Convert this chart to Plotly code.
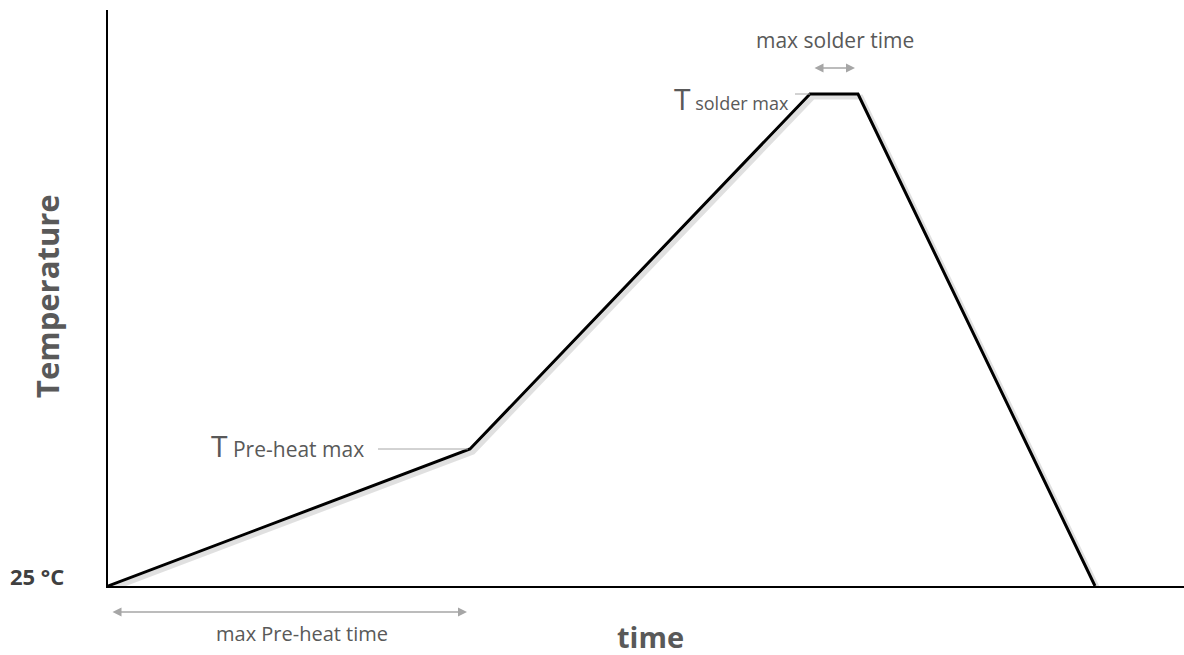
import plotly.graph_objects as go

# reflow profile (schematic units, time vs. temperature above 25 °C)
time = [0, 362, 702, 750, 987]
temp = [0, 137, 492, 492, 0]

preheat_time = [0, 362]
solder_time = [702, 750]
preheat_max = 137
solder_max = 492

grey = '#595959'
arrow_grey = '#a6a6a6'
font = 'Open Sans'

fig = go.Figure()

# soft shadow under the profile line
fig.add_trace(go.Scatter(x=[t + 3 for t in time], y=[v - 3 for v in temp], mode='lines',
                         line=dict(color='rgba(0,0,0,0.12)', width=5), hoverinfo='skip',
                         showlegend=False))
fig.add_trace(go.Scatter(x=time, y=temp, mode='lines', line=dict(color='black', width=3),
                         showlegend=False))

# labels outside the plot area (paper coords)
outside = [
    dict(x=-0.066, y=0.017, text='<b>25 °C</b>', font=dict(size=22, color='#404040')),
    dict(x=-0.056, y=0.503, text='<b>Temperature</b>', textangle=-90, font=dict(size=31, color=grey)),
    dict(x=0.504, y=-0.087, text='<b>time</b>', font=dict(size=29, color=grey)),
    dict(x=0.18, y=-0.083, text='max Pre-heat time', font=dict(size=20, color=grey)),
]
for a in outside:
    a.update(xref='paper', yref='paper', xanchor='center', yanchor='middle', borderpad=0,
             showarrow=False, font_family=font)
    fig.add_annotation(**a)

inside = [
    dict(x=258, y=preheat_max + 4, xanchor='right',
         text="<span style='font-size:30px'>T</span> Pre-heat max", font=dict(size=21, color=grey)),
    dict(x=683, y=solder_max - 4, xanchor='right',
         text="<span style='font-size:30px'>T</span> solder max", font=dict(size=18, color=grey)),
    dict(x=sum(solder_time) / 2 + 1, y=546, text='max solder time', font=dict(size=21, color=grey)),
]
for a in inside:
    a.update(xref='x', yref='y', showarrow=False, font_family=font)
    fig.add_annotation(**a)

# double arrows
for (x0, x1), y, yref in [(preheat_time, -0.045, 'paper'), (solder_time, 518, 'y')]:
    fig.add_annotation(x=x1 - 3, y=y, ax=x0 + 3, ay=0, xref='x', yref=yref, axref='x', ayref='pixel',
                       text='', showarrow=True, arrowside='end+start', arrowhead=2,
                       arrowsize=1.2, arrowwidth=1.5, arrowcolor=arrow_grey)

# leader lines to the T labels
fig.add_shape(type='line', x0=270, x1=preheat_time[1] - 2, y0=preheat_max, y1=preheat_max,
              line=dict(color=arrow_grey, width=1))
fig.add_shape(type='line', x0=687, x1=solder_time[0], y0=solder_max, y1=solder_max,
              line=dict(color=arrow_grey, width=1))

fig.update_xaxes(range=[0, 1076], showline=True, linecolor='black', linewidth=2, showgrid=False,
                 zeroline=False, showticklabels=False, ticks='')
fig.update_yaxes(range=[0, 576], showline=True, linecolor='black', linewidth=2, showgrid=False,
                 zeroline=False, showticklabels=False, ticks='')

fig.update_layout(width=1184, height=655, margin=dict(l=108, r=0, t=10, b=69),
                  plot_bgcolor='white', paper_bgcolor='white', font=dict(family=font))

fig.write_html('out.html', config={'displayModeBar': False},
               post_script="document.body.style.margin='0';")
